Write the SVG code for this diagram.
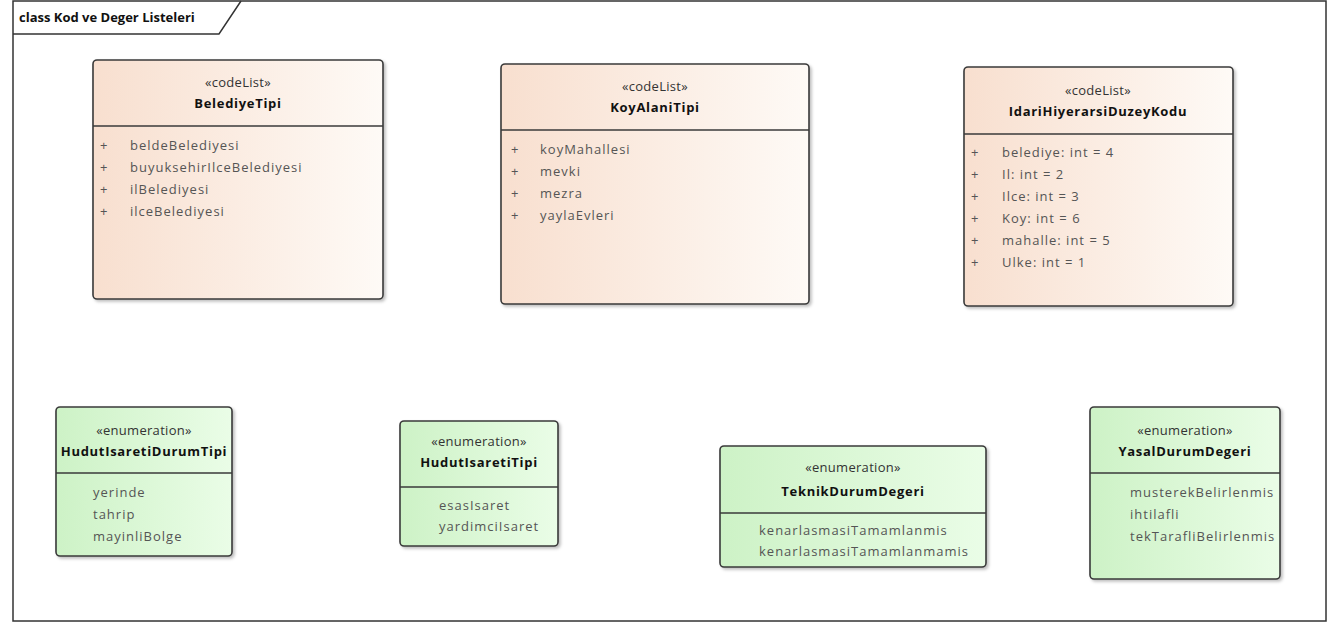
<svg xmlns="http://www.w3.org/2000/svg" width="1333" height="624" viewBox="0 0 1333 624">
<style>
.frame{fill:none;stroke:#333;stroke-width:1.5}
.box{stroke:#3a3a3a;stroke-width:1.6}
.cl{fill:url(#gPeach)}
.en{fill:url(#gGreen)}
.div{stroke:#3a3a3a;stroke-width:1.4}
text{font-family:"Open Sans","Noto Sans","DejaVu Sans",sans-serif;font-size:13px}
.st{fill:#333;text-anchor:middle;letter-spacing:0.3px}
.nm{fill:#111;font-weight:bold;text-anchor:middle;letter-spacing:0.7px}
.at{fill:#555;letter-spacing:1px}
.ttl{fill:#111;font-weight:bold;font-size:13px}
</style>
<defs>
<linearGradient id="gPeach" x1="0" y1="0" x2="1" y2="0">
<stop offset="0" stop-color="#f8dfcf"/>
<stop offset="1" stop-color="#fefaf6"/>
</linearGradient>
<linearGradient id="gGreen" x1="0" y1="0" x2="1" y2="0">
<stop offset="0" stop-color="#cdf2c6"/>
<stop offset="1" stop-color="#eafde7"/>
</linearGradient>
<filter id="sh" x="-10%" y="-10%" width="125%" height="125%">
<feDropShadow dx="2" dy="2" stdDeviation="1.5" flood-color="#000" flood-opacity="0.25"/>
</filter>
</defs>
<rect width="1333" height="624" fill="#fff"/>
<g id="frame">
<rect class="frame" x="13" y="1" width="1313" height="620"/>
<path class="frame" d="M13 34 H219 L241 1"/>
<text class="ttl" x="19" y="22">class Kod ve Deger Listeleri</text>
</g>
<g id="connectors"></g>
<g id="BelediyeTipi">
<rect class="box cl" x="93" y="60" width="290" height="239" rx="4" filter="url(#sh)"/>
<line class="div" x1="93" y1="126" x2="383" y2="126"/>
<text class="st" x="238" y="87">«codeList»</text>
<text class="nm" x="238" y="108">BelediyeTipi</text>
<text class="at" x="100" y="150">+</text><text class="at" x="130" y="150">beldeBelediyesi</text>
<text class="at" x="100" y="172">+</text><text class="at" x="130" y="172">buyuksehirIlceBelediyesi</text>
<text class="at" x="100" y="194">+</text><text class="at" x="130" y="194">ilBelediyesi</text>
<text class="at" x="100" y="216">+</text><text class="at" x="130" y="216">ilceBelediyesi</text>
</g>
<g id="KoyAlaniTipi">
<rect class="box cl" x="501" y="64" width="308" height="240" rx="4" filter="url(#sh)"/>
<line class="div" x1="501" y1="130" x2="809" y2="130"/>
<text class="st" x="655" y="91">«codeList»</text>
<text class="nm" x="655" y="112">KoyAlaniTipi</text>
<text class="at" x="511" y="154">+</text><text class="at" x="540" y="154">koyMahallesi</text>
<text class="at" x="511" y="176">+</text><text class="at" x="540" y="176">mevki</text>
<text class="at" x="511" y="198">+</text><text class="at" x="540" y="198">mezra</text>
<text class="at" x="511" y="220">+</text><text class="at" x="540" y="220">yaylaEvleri</text>
</g>
<g id="IdariHiyerarsiDuzeyKodu">
<rect class="box cl" x="964" y="67" width="269" height="239" rx="4" filter="url(#sh)"/>
<line class="div" x1="964" y1="134" x2="1233" y2="134"/>
<text class="st" x="1098" y="95">«codeList»</text>
<text class="nm" x="1098" y="116">IdariHiyerarsiDuzeyKodu</text>
<text class="at" x="971" y="157">+</text><text class="at" x="1002" y="157">belediye: int = 4</text>
<text class="at" x="971" y="179">+</text><text class="at" x="1002" y="179">Il: int = 2</text>
<text class="at" x="971" y="201">+</text><text class="at" x="1002" y="201">Ilce: int = 3</text>
<text class="at" x="971" y="223">+</text><text class="at" x="1002" y="223">Koy: int = 6</text>
<text class="at" x="971" y="245">+</text><text class="at" x="1002" y="245">mahalle: int = 5</text>
<text class="at" x="971" y="267">+</text><text class="at" x="1002" y="267">Ulke: int = 1</text>
</g>
<g id="HudutIsaretiDurumTipi">
<rect class="box en" x="56" y="407" width="176" height="149" rx="4" filter="url(#sh)"/>
<line class="div" x1="56" y1="473" x2="232" y2="473"/>
<text class="st" x="144" y="435">«enumeration»</text>
<text class="nm" x="144" y="456">HudutIsaretiDurumTipi</text>
<text class="at" x="93" y="497">yerinde</text>
<text class="at" x="93" y="519">tahrip</text>
<text class="at" x="93" y="541">mayinliBolge</text>
</g>
<g id="HudutIsaretiTipi">
<rect class="box en" x="400" y="421" width="158" height="125" rx="4" filter="url(#sh)"/>
<line class="div" x1="400" y1="487" x2="558" y2="487"/>
<text class="st" x="479" y="446">«enumeration»</text>
<text class="nm" x="479" y="467">HudutIsaretiTipi</text>
<text class="at" x="439" y="510">esasIsaret</text>
<text class="at" x="439" y="531">yardimciIsaret</text>
</g>
<g id="TeknikDurumDegeri">
<rect class="box en" x="720" y="446" width="266" height="121" rx="4" filter="url(#sh)"/>
<line class="div" x1="720" y1="513" x2="986" y2="513"/>
<text class="st" x="853" y="472">«enumeration»</text>
<text class="nm" x="853" y="496">TeknikDurumDegeri</text>
<text class="at" x="759" y="535">kenarlasmasiTamamlanmis</text>
<text class="at" x="759" y="556">kenarlasmasiTamamlanmamis</text>
</g>
<g id="YasalDurumDegeri">
<rect class="box en" x="1090" y="407" width="190" height="172" rx="4" filter="url(#sh)"/>
<line class="div" x1="1090" y1="473" x2="1280" y2="473"/>
<text class="st" x="1185" y="435">«enumeration»</text>
<text class="nm" x="1185" y="456">YasalDurumDegeri</text>
<text class="at" x="1130" y="497">musterekBelirlenmis</text>
<text class="at" x="1130" y="519">ihtilafli</text>
<text class="at" x="1130" y="541">tekTarafliBelirlenmis</text>
</g>
</svg>
